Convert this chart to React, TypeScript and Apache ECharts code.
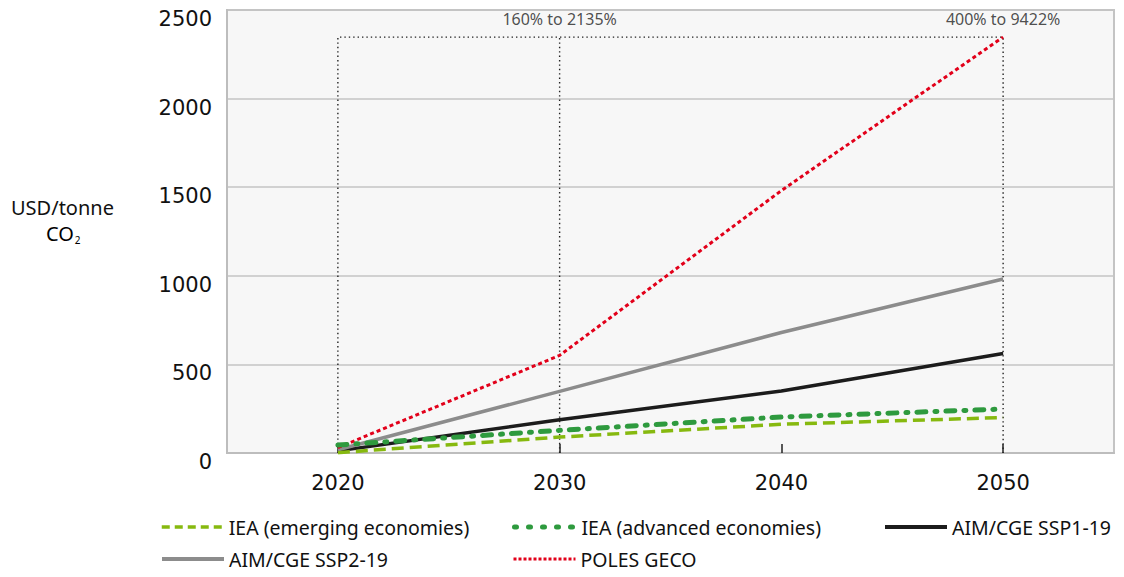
import React, { useEffect, useRef } from "react";
import * as echarts from "echarts";

const categories = ["2020", "2030", "2040", "2050"];
const ieaEmerging = [2, 90, 162, 200];
const ieaAdvanced = [45, 128, 203, 248];
const ssp119 = [12, 188, 350, 561];
const ssp219 = [18, 348, 680, 982];
const polesGeco = [30, 551, 1481, 2347];
const bracketTop = 2347;
const annotationLabels = ["160% to 2135%", "400% to 9422%"];
const seriesNames = [
  "IEA (emerging economies)",
  "IEA (advanced economies)",
  "AIM/CGE SSP1-19",
  "AIM/CGE SSP2-19",
  "POLES GECO",
];

const FONT = "'Noto Sans', sans-serif";
const TICK_FONT = "'DejaVu Sans', sans-serif";

const seriesStyles = [
  { color: "#86b90f", width: 3.5, type: [12, 6] as any },
  { color: "#2e9a3e", width: 5, type: [9, 9, 2, 9] as any },
  { color: "#1c1c1c", width: 3.5, type: "solid" as any },
  { color: "#8c8c8c", width: 3.5, type: "solid" as any },
  { color: "#e2001a", width: 3, type: [4, 3] as any },
];

export default function App() {
  const ref = useRef<HTMLDivElement>(null);
  useEffect(() => {
    if (!ref.current) return;
    const chart = echarts.init(ref.current, null, { renderer: "svg" });
    const legendPos = [
      { left: 160, top: 517 },
      { left: 512, top: 517 },
      { left: 883, top: 517 },
      { left: 160, top: 549 },
      { left: 512, top: 549 },
    ];
    const legendLine = [
      { width: 3.5, type: [8, 5] },
      { width: 5, type: [2, 12] },
      { width: 4, type: "solid" },
      { width: 4, type: "solid" },
      { width: 3, type: [3, 2] },
    ];
    chart.setOption({
      animation: false,
      grid: {
        left: 227,
        right: 10,
        top: 10,
        bottom: 124,
        show: true,
        backgroundColor: "#f7f7f7",
        borderColor: "#c4c4c4",
        borderWidth: 2,
      },
      legend: seriesNames.map((n, i) => ({
        data: [n],
        left: legendPos[i].left,
        top: legendPos[i].top,
        padding: 0,
        itemWidth: 62,
        itemHeight: 20,
        itemStyle: { opacity: 0 },
        lineStyle: {
          color: seriesStyles[i].color,
          width: legendLine[i].width,
          type: legendLine[i].type,
          cap: i === 1 ? "round" : "butt",
        },
        textStyle: { fontFamily: FONT, fontSize: 19.5, color: "#111" },
      })),
      graphic: [
        {
          type: "text",
          left: 11,
          top: 197,
          style: {
            text: "USD/tonne",
            font: `20px ${FONT}`,
            fill: "#111",
          },
        },
        {
          type: "text",
          left: 46,
          top: 223,
          style: {
            text: "{a|CO}{b|2}",
            rich: {
              a: { fontFamily: FONT, fontSize: 20, color: "#111" },
              b: { fontFamily: FONT, fontSize: 10, color: "#111", padding: [13, 0, 0, 1] },
            },
          },
        },
      ],
      xAxis: {
        type: "category",
        data: categories,
        boundaryGap: true,
        axisLine: { lineStyle: { color: "#bdbdbd", width: 2 } },
        axisTick: {
          show: true,
          alignWithLabel: true,
          inside: true,
          length: 9,
          lineStyle: { color: "#222", width: 1.5 },
        },
        axisLabel: {
          margin: 19,
          fontFamily: TICK_FONT,
          fontSize: 21,
          color: "#111",
        },
      },
      yAxis: {
        type: "value",
        min: 0,
        max: 2500,
        interval: 500,
        axisLine: { show: true, lineStyle: { color: "#bdbdbd", width: 2 } },
        axisTick: { show: false },
        splitLine: { lineStyle: { color: "#c4c4c4", width: 1.5 } },
        axisLabel: {
          margin: 15,
          fontFamily: TICK_FONT,
          fontSize: 21,
          color: "#111",
          verticalAlign: "top",
          lineHeight: 18,
          formatter: (v: number) => String(v),
        },
      },
      series: [
        {
          name: "bracket",
          type: "line",
          data: [
            [0, 0],
            [0, bracketTop],
            [3, bracketTop],
            [3, 0],
          ],
          symbol: "none",
          silent: true,
          z: 1,
          lineStyle: { color: "#222", width: 1.4, type: [1.4, 3] },
        },
        {
          name: "bracket2030",
          type: "line",
          data: [
            [1, 0],
            [1, bracketTop],
          ],
          symbol: "none",
          silent: true,
          z: 1,
          lineStyle: { color: "#222", width: 1.4, type: [1.4, 3] },
        },
        {
          name: "annotations",
          type: "scatter",
          data: [
            [1, bracketTop],
            [3, bracketTop],
          ],
          symbolSize: 0,
          silent: true,
          label: {
            show: true,
            position: "top",
            distance: 10,
            formatter: (p: any) => annotationLabels[p.dataIndex],
            fontFamily: FONT,
            fontSize: 16,
            color: "#222",
          },
        },
        ...seriesNames.map((n, i) => ({
          name: n,
          type: "line",
          data: [ieaEmerging, ieaAdvanced, ssp119, ssp219, polesGeco][i],
          symbol: "none",
          z: i < 2 ? 5 : 4,
          color: seriesStyles[i].color,
          lineStyle: {
            color: seriesStyles[i].color,
            width: seriesStyles[i].width,
            type: seriesStyles[i].type,
            cap: i === 1 ? "round" : "butt",
          },
        })),
      ],
    });
    return () => chart.dispose();
  }, []);
  return (
    <div
      ref={ref}
      style={{ position: "fixed", left: 0, top: 0, width: 1124, height: 577, background: "#fff" }}
    />
  );
}
